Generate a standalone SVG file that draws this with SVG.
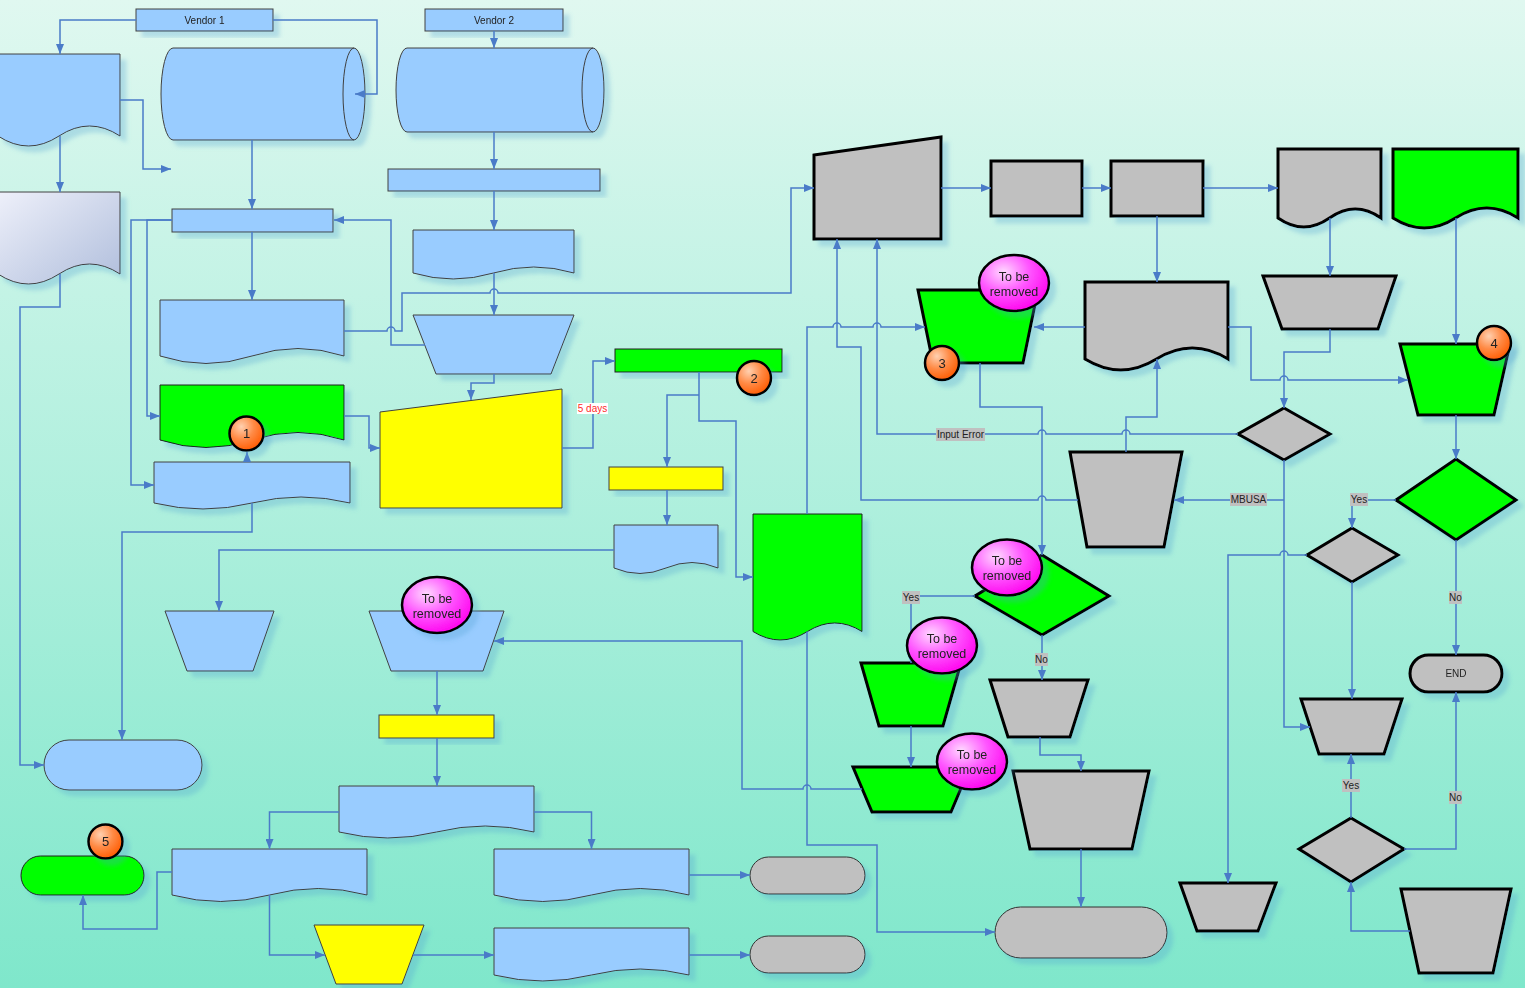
<svg xmlns="http://www.w3.org/2000/svg" width="1525" height="988" viewBox="0 0 1525 988">
<defs>
<linearGradient id="bg" x1="0" y1="0" x2="0" y2="1"><stop offset="0" stop-color="#e0f8f0"/><stop offset="1" stop-color="#7fe7cb"/></linearGradient>
<linearGradient id="lav" x1="0" y1="0" x2="1" y2="1"><stop offset="0" stop-color="#eef0fa"/><stop offset="1" stop-color="#b0bedc"/></linearGradient>
<radialGradient id="org" cx="0.35" cy="0.3" r="0.75"><stop offset="0" stop-color="#ffd0b0"/><stop offset="0.5" stop-color="#ff8a45"/><stop offset="1" stop-color="#ff5a00"/></radialGradient>
<radialGradient id="mag" cx="0.35" cy="0.3" r="0.75"><stop offset="0" stop-color="#ffd8ff"/><stop offset="0.5" stop-color="#ff55ff"/><stop offset="1" stop-color="#ff00ee"/></radialGradient>
<filter id="sh" x="-20%" y="-20%" width="150%" height="150%"><feDropShadow dx="6" dy="6" stdDeviation="2" flood-color="#4f9fd0" flood-opacity="0.3"/></filter>
<marker id="ah" markerWidth="10" markerHeight="8" refX="10" refY="4" orient="auto" markerUnits="userSpaceOnUse"><path d="M0,0 L10,4 L0,8 Z" fill="#4a7bc8"/></marker>
</defs>
<style>
.b{fill:#99ccff;stroke:#404040;stroke-width:1}
.y{fill:#ffff00;stroke:#404040;stroke-width:1}
.gt{fill:#00ff00;stroke:#202020;stroke-width:1}
.gk{fill:#00ff00;stroke:#000;stroke-width:3;stroke-linejoin:miter}
.k{fill:#c0c0c0;stroke:#000;stroke-width:3}
.kt{fill:#c0c0c0;stroke:#303030;stroke-width:1}
.c{fill:none;stroke:#4a7bc8;stroke-width:1.5;marker-end:url(#ah)}
.n{filter:url(#sh)}
.t{font-family:"Liberation Sans",Arial,sans-serif;font-size:10px;fill:#222;text-anchor:middle}
.bt{font-family:"Liberation Sans",Arial,sans-serif;font-size:12.5px;fill:#222;text-anchor:middle}
.ot{font-family:"Liberation Sans",Arial,sans-serif;font-size:13px;fill:#222;text-anchor:middle}
.lb{fill:#c0c0c0}
.ob{fill:url(#org);stroke:#000;stroke-width:2.5}
.mb{fill:url(#mag);stroke:#000;stroke-width:2.5}
</style>
<rect x="0" y="0" width="1525" height="988" fill="url(#bg)"/>

<g id="vendor1" class="n"><rect class="b" x="136" y="9" width="137" height="22"/><text class="t" x="204.5" y="23.5">Vendor 1</text></g>
<g id="vendor2" class="n"><rect class="b" x="425" y="9" width="138" height="22"/><text class="t" x="494" y="23.5">Vendor 2</text></g>
<g id="doc-b1" class="n"><path class="b" d="M-2,54 H120 V136 Q89.5,116 59,136 T-2,136 Z"/></g>
<g id="doc-b2" class="n"><path d="M-2,192 H120 V274 Q89.5,254 59,274 T-2,274 Z" fill="url(#lav)" stroke="#404040" stroke-width="1"/></g>
<g id="cyl-1" class="n"><path class="b" d="M173,48 H354 A11,46 0 0 1 354,140 H173 A12,46 0 0 1 173,48 Z"/><path d="M354,48 A11,46 0 0 0 354,140" fill="none" stroke="#404040" stroke-width="1"/></g>
<g id="cyl-2" class="n"><path class="b" d="M407,48 H593 A11,42 0 0 1 593,132 H407 A11,42 0 0 1 407,48 Z"/><path d="M593,48 A11,42 0 0 0 593,132" fill="none" stroke="#404040" stroke-width="1"/></g>
<g id="rect-b5" class="n"><rect class="b" x="388" y="169" width="212" height="22"/></g>
<g id="rect-b6" class="n"><rect class="b" x="172" y="209" width="161" height="23"/></g>
<g id="doc-b7" class="n"><path class="b" d="M413,230 H574 V273 Q533.75,261 493.5,273 T413,273 Z"/></g>
<g id="doc-b8" class="n"><path class="b" d="M160,300 H344 V356 Q298,341 252,356 T160,356 Z"/></g>
<g id="trap-b9" class="n"><polygon class="b" points="413,315 574,315 551,374 436,374"/></g>
<g id="doc-g1" class="n"><path class="gt" d="M160,385 H344 V440 Q298,425 252,440 T160,440 Z"/></g>
<g id="doc-b10" class="n"><path class="b" d="M154,462 H350 V503 Q301,491 252,503 T154,503 Z"/></g>
<g id="input-y1" class="n"><polygon class="y" points="380,412 562,389 562,508 380,508"/></g>
<g id="rect-g2" class="n"><rect class="gt" x="615" y="349" width="167" height="23"/></g>
<g id="rect-y2" class="n"><rect class="y" x="609" y="467" width="114" height="23"/></g>
<g id="doc-b11" class="n"><path class="b" d="M614,525 H718 V568 Q692,557 666,568 T614,568 Z"/></g>
<g id="doc-g3" class="n"><path class="gt" d="M753,514 H862 V631.5 Q834.75,614.5 807.5,631.5 T753,631.5 Z"/></g>
<g id="trap-b12" class="n"><polygon class="b" points="165,611 274,611 253,671 187,671"/></g>
<g id="trap-b13" class="n"><polygon class="b" points="369,611 504,611 483,671 391,671"/></g>
<g id="term-b14" class="n"><rect class="b" x="44" y="740" width="158" height="50" rx="25"/></g>
<g id="rect-y3" class="n"><rect class="y" x="379" y="715" width="115" height="23"/></g>
<g id="doc-b15" class="n"><path class="b" d="M339,786 H534 V832 Q485.25,820 436.5,832 T339,832 Z"/></g>
<g id="doc-b16" class="n"><path class="b" d="M172,849 H367 V895 Q318.25,882 269.5,895 T172,895 Z"/></g>
<g id="doc-b17" class="n"><path class="b" d="M494,849 H689 V895 Q640.25,882 591.5,895 T494,895 Z"/></g>
<g id="doc-b18" class="n"><path class="b" d="M494,928 H689 V975 Q640.25,963 591.5,975 T494,975 Z"/></g>
<g id="term-g4" class="n"><rect class="gt" x="21" y="856" width="123" height="39" rx="19.5"/></g>
<g id="trap-y4" class="n"><polygon class="y" points="314,925 424,925 402,984 336,984"/></g>
<g id="term-gr18" class="n"><rect class="kt" x="750" y="857" width="115" height="37" rx="18.5"/></g>
<g id="term-gr19" class="n"><rect class="kt" x="750" y="936" width="115" height="37" rx="18.5"/></g>

<g id="input-gr1" class="n"><polygon class="k" points="814,155 941,137 941,239 814,239"/></g>
<g id="rect-gr2" class="n"><rect class="k" x="991" y="161" width="91" height="55"/></g>
<g id="rect-gr3" class="n"><rect class="k" x="1111" y="161" width="92" height="55"/></g>
<g id="doc-gr4" class="n"><path class="k" d="M1278,149 H1381 V218 Q1355.25,200 1329.5,218 T1278,218 Z"/></g>
<g id="doc-g6" class="n"><path class="gk" d="M1393,149 H1518 V218 Q1486.75,198 1455.5,218 T1393,218 Z"/></g>
<g id="doc-gr5" class="n"><path class="k" d="M1085,282 H1228 V359 Q1192.25,337 1156.5,359 T1085,359 Z"/></g>
<g id="trap-gr6" class="n"><polygon class="k" points="1263,276 1396,276 1378,329 1282,329"/></g>
<g id="trap-g5" class="n"><polygon class="gk" points="918,290 1038,290 1023,363 933,363"/></g>
<g id="trap-g7" class="n"><polygon class="gk" points="1400,344 1510,344 1494,415 1418,415"/></g>
<g id="dia-gr7" class="n"><polygon class="k" points="1284,408 1330,434 1284,460 1238,434"/></g>
<g id="trap-gr8" class="n"><polygon class="k" points="1070,452 1182,452 1164,547 1087,547"/></g>
<g id="dia-g8" class="n"><polygon class="gk" points="1456,459 1516,500 1456,540 1396,500"/></g>
<g id="dia-gr9" class="n"><polygon class="k" points="1352,528 1398,555 1352,582 1307,555"/></g>
<g id="dia-g9" class="n"><polygon class="gk" points="1042,555 1109,596 1042,635 975,596"/></g>
<g id="term-end" class="n"><rect class="k" x="1410" y="655" width="92" height="37" rx="18.5"/><text class="t" x="1456" y="677">END</text></g>
<g id="trap-gr10" class="n"><polygon class="k" points="1301,699 1402,699 1384,754 1319,754"/></g>
<g id="trap-gr12" class="n"><polygon class="k" points="990,680 1088,680 1070,737 1008,737"/></g>
<g id="trap-g10" class="n"><polygon class="gk" points="861,663 961,663 943,726 879,726"/></g>
<g id="trap-g11" class="n"><polygon class="gk" points="853,767 970,767 951,812 872,812"/></g>
<g id="trap-gr13" class="n"><polygon class="k" points="1013,771 1149,771 1132,849 1030,849"/></g>
<g id="dia-gr16" class="n"><polygon class="k" points="1351,818 1404,849 1351,882 1299,849"/></g>
<g id="trap-gr15" class="n"><polygon class="k" points="1180,883 1276,883 1258,931 1197,931"/></g>
<g id="trap-gr17" class="n"><polygon class="k" points="1401,889 1511,889 1493,973 1419,973"/></g>
<g id="term-gr14" class="n"><rect class="kt" x="995" y="907" width="172" height="51" rx="25.5"/></g>

<g id="connectors">
<path class="c" d="M136,20 H60 V54"/>
<path class="c" d="M273,20 H377 V94 H355"/>
<path class="c" d="M120,100 H143 V169 H171"/>
<path class="c" d="M60,136 V192"/>
<path class="c" d="M60,274 V307 H20 V765 H44"/>
<path class="c" d="M252,140 V209"/>
<path class="c" d="M252,232 V300"/>
<path class="c" d="M172,220 H147 V416 H160"/>
<path class="c" d="M172,220 H131 V485 H154"/>
<path class="c" d="M494,31 V48"/>
<path class="c" d="M494,132 V169"/>
<path class="c" d="M494,191 V230"/>
<path class="c" d="M494,273 V315"/>
<path class="c" d="M425,345 H391 V220 H334"/>
<path class="c" d="M344,331 H387 A4,4 0 0 1 395,331 H402 V293 H490 A4,4 0 0 1 498,293 H791 V188 H814"/>
<path class="c" d="M494,374 V383 H471 V400"/>
<path class="c" d="M344,416 H369 V448 H380"/>
<path class="c" d="M247,462 V452"/>
<path class="c" d="M252,503 V532 H122 V740"/>
<path class="c" d="M562,448 H593 V361 H615"/>
<path class="c" d="M699,372 V421 H736 V577 H753"/>
<path class="c" d="M699,395 H667 V467"/>
<path class="c" d="M667,490 V525"/>
<path class="c" d="M614,550 H219 V611"/>
<path class="c" d="M807,514 V327 H833 A4,4 0 0 1 841,327 H873 A4,4 0 0 1 881,327 H925"/>
<path class="c" d="M1078,500 H1046 A4,4 0 0 0 1038,500 H861 V347 H837 V239"/>
<path class="c" d="M1238,434 H1130 A4,4 0 0 0 1122,434 H1046 A4,4 0 0 0 1038,434 H877 V239"/>
<path class="c" d="M1126,452 V417 H1157 V359"/>
<path class="c" d="M980,363 V407 H1042 V555"/>
<path class="c" d="M1085,327 H1034"/>
<path class="c" d="M941,188 H991"/>
<path class="c" d="M1082,188 H1111"/>
<path class="c" d="M1203,188 H1278"/>
<path class="c" d="M1157,216 V282"/>
<path class="c" d="M1330,218 V276"/>
<path class="c" d="M1330,329 V352 H1284 V408"/>
<path class="c" d="M1228,327 H1251 V380 H1280 A4,4 0 0 1 1288,380 H1408"/>
<path class="c" d="M1456,218 V344"/>
<path class="c" d="M1456,415 V459"/>
<path class="c" d="M1396,500 H1352 V528"/>
<path class="c" d="M1456,540 V655"/>
<path class="c" d="M1284,460 V727 H1310"/>
<path class="c" d="M1284,500 H1174"/>
<path class="c" d="M1352,582 V699"/>
<path class="c" d="M1307,555 H1288 A4,4 0 0 0 1280,555 H1228 V883"/>
<path class="c" d="M1351,818 V754"/>
<path class="c" d="M1404,849 H1456 V692"/>
<path class="c" d="M1410,931 H1351 V882"/>
<path class="c" d="M975,596 H911 V663"/>
<path class="c" d="M1042,635 V680"/>
<path class="c" d="M911,726 V767"/>
<path class="c" d="M862,789 H811 A4,4 0 0 0 803,789 H742 V641 H494"/>
<path class="c" d="M807,631.5 V845 H877 V932 H995"/>
<path class="c" d="M1040,737 V755 H1081 V771"/>
<path class="c" d="M1081,849 V907"/>
<path class="c" d="M437,671 V715"/>
<path class="c" d="M437,738 V786"/>
<path class="c" d="M339,812 H269.5 V849"/>
<path class="c" d="M534,812 H591.5 V849"/>
<path class="c" d="M269.5,895 V955 H325"/>
<path class="c" d="M413,955 H494"/>
<path class="c" d="M172,872 H157 V929 H83 V895"/>
<path class="c" d="M689,875 H750"/>
<path class="c" d="M689,955 H750"/>
<rect x="577" y="403" width="31" height="11" fill="#fff"/><text class="t" x="592.5" y="412" style="fill:#ff2a2a">5 days</text>
<rect class="lb" x="936" y="428" width="49" height="13"/><text class="t" x="960.5" y="438">Input Error</text>
<rect class="lb" x="1230" y="493" width="37" height="13"/><text class="t" x="1248.5" y="503">MBUSA</text>
<rect class="lb" x="1350" y="493" width="18" height="13"/><text class="t" x="1359" y="503">Yes</text>
<rect class="lb" x="1449" y="591" width="13" height="13"/><text class="t" x="1455.5" y="601">No</text>
<rect class="lb" x="1342" y="779" width="18" height="13"/><text class="t" x="1351" y="789">Yes</text>
<rect class="lb" x="1449" y="791" width="13" height="13"/><text class="t" x="1455.5" y="801">No</text>
<rect class="lb" x="902" y="591" width="18" height="13"/><text class="t" x="911" y="601">Yes</text>
<rect class="lb" x="1035" y="653" width="13" height="13"/><text class="t" x="1041.5" y="663">No</text>
</g>

<g id="badge-1" class="n"><circle class="ob" cx="246.5" cy="433.5" r="17"/><text class="ot" x="246.5" y="438">1</text></g>
<g id="badge-2" class="n"><circle class="ob" cx="754" cy="378" r="17"/><text class="ot" x="754" y="382.5">2</text></g>
<g id="badge-3" class="n"><circle class="ob" cx="942" cy="363" r="17"/><text class="ot" x="942" y="367.5">3</text></g>
<g id="badge-4" class="n"><circle class="ob" cx="1494" cy="343" r="17"/><text class="ot" x="1494" y="347.5">4</text></g>
<g id="badge-5" class="n"><circle class="ob" cx="105.5" cy="841.5" r="17"/><text class="ot" x="105.5" y="846">5</text></g>
<g id="note-1" class="n"><ellipse class="mb" cx="1014" cy="283" rx="35" ry="28"/><text class="bt" x="1014" y="280.5">To be</text><text class="bt" x="1014" y="295.5">removed</text></g>
<g id="note-2" class="n"><ellipse class="mb" cx="1007" cy="567.5" rx="35" ry="28"/><text class="bt" x="1007" y="565">To be</text><text class="bt" x="1007" y="580">removed</text></g>
<g id="note-3" class="n"><ellipse class="mb" cx="942" cy="645.5" rx="35" ry="28"/><text class="bt" x="942" y="643">To be</text><text class="bt" x="942" y="658">removed</text></g>
<g id="note-4" class="n"><ellipse class="mb" cx="972" cy="761.5" rx="35" ry="28"/><text class="bt" x="972" y="759">To be</text><text class="bt" x="972" y="774">removed</text></g>
<g id="note-5" class="n"><ellipse class="mb" cx="437" cy="605" rx="35" ry="28"/><text class="bt" x="437" y="602.5">To be</text><text class="bt" x="437" y="617.5">removed</text></g>
</svg>
